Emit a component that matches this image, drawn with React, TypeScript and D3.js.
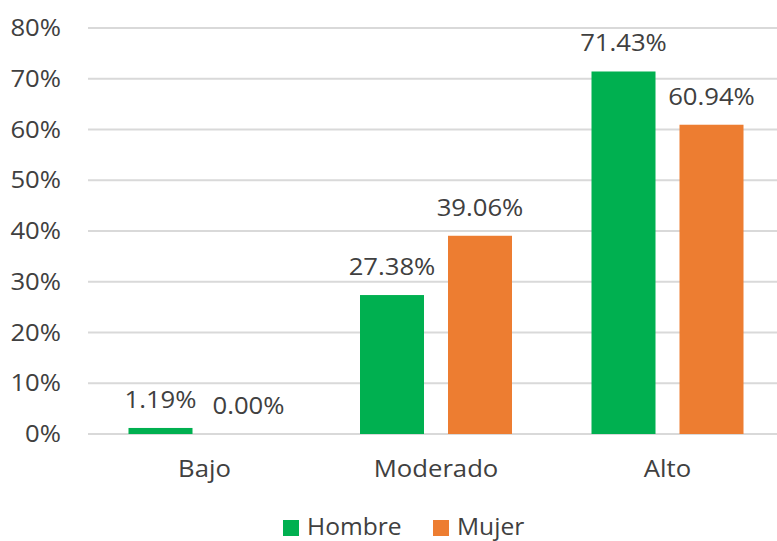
import React from "react";
import * as d3 from "d3";

const categories = ["Bajo", "Moderado", "Alto"];
const seriesNames = ["Hombre", "Mujer"];
const hombre = [1.19, 27.38, 71.43];
const mujer = [0.0, 39.06, 60.94];
const yTicks = [0, 10, 20, 30, 40, 50, 60, 70, 80];
const colors = ["#00B050", "#ED7D31"];

const W = 777;
const H = 541;
const FONT = "'Open Sans', sans-serif";
const TEXT = "#404040";
const SX = 1.07;

function Label({ x, y, anchor, children, size = 24 }: any) {
  return (
    <g transform={`translate(${x},${y}) scale(${SX},1)`}>
      <text x={0} y={0} textAnchor={anchor} fontFamily={FONT} fontSize={size} fill={TEXT}>
        {children}
      </text>
    </g>
  );
}

export default function App() {
  const values = [hombre, mujer];
  const x0 = d3.scaleBand<string>().domain(categories).range([88.75, 783.25]).padding(0);
  const groupPad = (x0.bandwidth() - 152) / 2;
  const x1 = d3
    .scaleBand<string>()
    .domain(seriesNames)
    .range([groupPad, groupPad + 152])
    .paddingInner(24 / 88)
    .paddingOuter(0);
  const y = d3.scaleLinear().domain([0, 80]).range([434, 28]);

  return (
    <svg
      width={W}
      height={H}
      style={{ position: "absolute", left: 0, top: 0, background: "#fff" }}
    >
      <rect width={W} height={H} fill="#fff" />
      {yTicks.map((t) => (
        <g key={t}>
          <line x1={88} x2={W} y1={y(t)} y2={y(t)} stroke="#d9d9d9" strokeWidth={2} />
          <Label x={61} y={y(t) + 8} anchor="end">{`${t}%`}</Label>
        </g>
      ))}
      {categories.map((c, ci) => (
        <g key={c}>
          {seriesNames.map((s, si) => {
            const v = values[si][ci];
            const bx = (x0(c) as number) + (x1(s) as number);
            const bw = x1.bandwidth();
            return (
              <g key={s}>
                <rect x={bx} y={y(v)} width={bw} height={y(0) - y(v)} fill={colors[si]} />
                <Label x={bx + bw / 2} y={y(v) - 20} anchor="middle">{`${v.toFixed(2)}%`}</Label>
              </g>
            );
          })}
          <Label x={(x0(c) as number) + x0.bandwidth() / 2} y={477} anchor="middle">
            {c}
          </Label>
        </g>
      ))}
      {/* legend */}
      {seriesNames.map((s, si) => {
        const lx = [283, 433][si];
        return (
          <g key={s}>
            <rect x={lx} y={520} width={16} height={16} fill={colors[si]} />
            <Label x={lx + 24} y={535} anchor="start" size={23}>{s}</Label>
          </g>
        );
      })}
    </svg>
  );
}
